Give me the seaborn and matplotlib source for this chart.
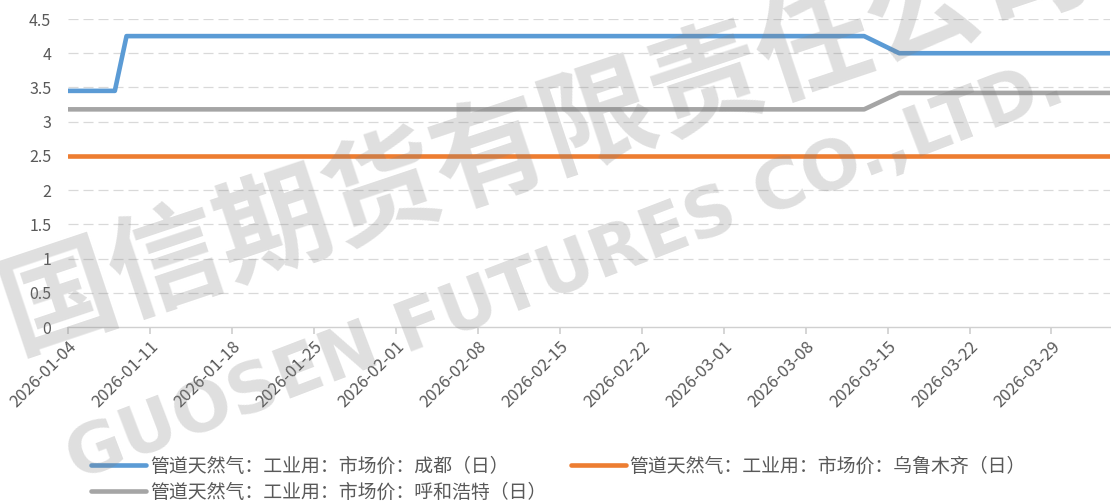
import matplotlib
matplotlib.use("Agg")
import matplotlib.pyplot as plt
import seaborn as sns
import pandas as pd

# ---- data (breakpoints) ----
dates = ["2026-01-04", "2026-01-08", "2026-01-09", "2026-03-13", "2026-03-16", "2026-04-03"]
chengdu = [3.45, 3.45, 4.25, 4.25, 4.0, 4.0]
urumqi = [2.5, 2.5, 2.5, 2.5, 2.5, 2.5]
hohhot = [3.18, 3.18, 3.18, 3.18, 3.42, 3.42]
series_names = [
    "管道天然气：工业用：市场价：成都（日）",
    "管道天然气：工业用：市场价：呼和浩特（日）",
    "管道天然气：工业用：市场价：乌鲁木齐（日）",
]
colors = ["#5B9BD5", "#A5A5A5", "#ED7D31"]
yticks = [0, 0.5, 1, 1.5, 2, 2.5, 3, 3.5, 4, 4.5]
ytick_labels = ["0", "0.5", "1", "1.5", "2", "2.5", "3", "3.5", "4", "4.5"]
xtick_dates = pd.date_range("2026-01-04", "2026-03-29", freq="7D")

df = pd.concat([
    pd.DataFrame({"date": pd.to_datetime(dates), "value": chengdu, "series": series_names[0]}),
    pd.DataFrame({"date": pd.to_datetime(dates), "value": hohhot, "series": series_names[1]}),
    pd.DataFrame({"date": pd.to_datetime(dates), "value": urumqi, "series": series_names[2]}),
])

sns.set_theme(style="white")
plt.rcParams["font.family"] = ["Noto Sans CJK SC", "DejaVu Sans"]

fig = plt.figure(figsize=(11.11, 5.04), dpi=100)
ax = fig.add_axes([68 / 1111, 1 - 327 / 504, 1042 / 1111, 308 / 504])

sns.lineplot(data=df, x="date", y="value", hue="series", hue_order=series_names,
             palette=colors, linewidth=3.3, ax=ax, legend=False, estimator=None,
             sort=False)

ax.set_xlim(pd.Timestamp("2026-01-04"), pd.Timestamp("2026-04-03"))
ax.set_ylim(0, 4.5)
ax.set_yticks(yticks)
ax.set_yticklabels(ytick_labels)
ax.set_xticks(xtick_dates)
ax.set_xticklabels([d.strftime("%Y-%m-%d") for d in xtick_dates], rotation=45,
                   ha="right", rotation_mode="anchor")
ax.set_xlabel("")
ax.set_ylabel("")

for y in yticks[1:]:
    ax.axhline(y, color="#D9D9D9", linewidth=0.9, linestyle=(0, (8, 4)), zorder=0)

for s in ["top", "right", "left"]:
    ax.spines[s].set_visible(False)
ax.spines["bottom"].set_color("#D0D0D0")
ax.spines["bottom"].set_linewidth(1.0)
ax.tick_params(axis="x", which="major", bottom=True, length=5, color="#D0D0D0",
               labelsize=12, labelcolor="#595959", pad=3)
ax.tick_params(axis="y", left=False, labelsize=11.5, labelcolor="#595959", pad=6)

handles = [plt.Line2D([], [], color=c, linewidth=3.3) for c in colors]
fig.legend(handles, series_names, loc="upper left", ncol=2,
           bbox_to_anchor=(80 / 1111, 1 - 444 / 504), frameon=False,
           fontsize=13.6, handlelength=2.9, handletextpad=0.2,
           columnspacing=1.3, labelspacing=0.28, labelcolor="#595959",
           borderpad=0.1)

# watermark (display coords, origin bottom-left)
fig.text(545, 366, "国信期货有限责任公司", transform=None, fontsize=82,
         color="#808080", alpha=0.25, rotation=18.5, ha="center", va="center",
         fontweight="bold", zorder=10)
fig.text(565, 232, "GUOSEN FUTURES CO.,LTD.", transform=None, fontsize=50,
         color="#808080", alpha=0.25, rotation=21, ha="center", va="center",
         fontweight="bold", family="DejaVu Sans", zorder=10)

fig.savefig("out.png", dpi=100)
